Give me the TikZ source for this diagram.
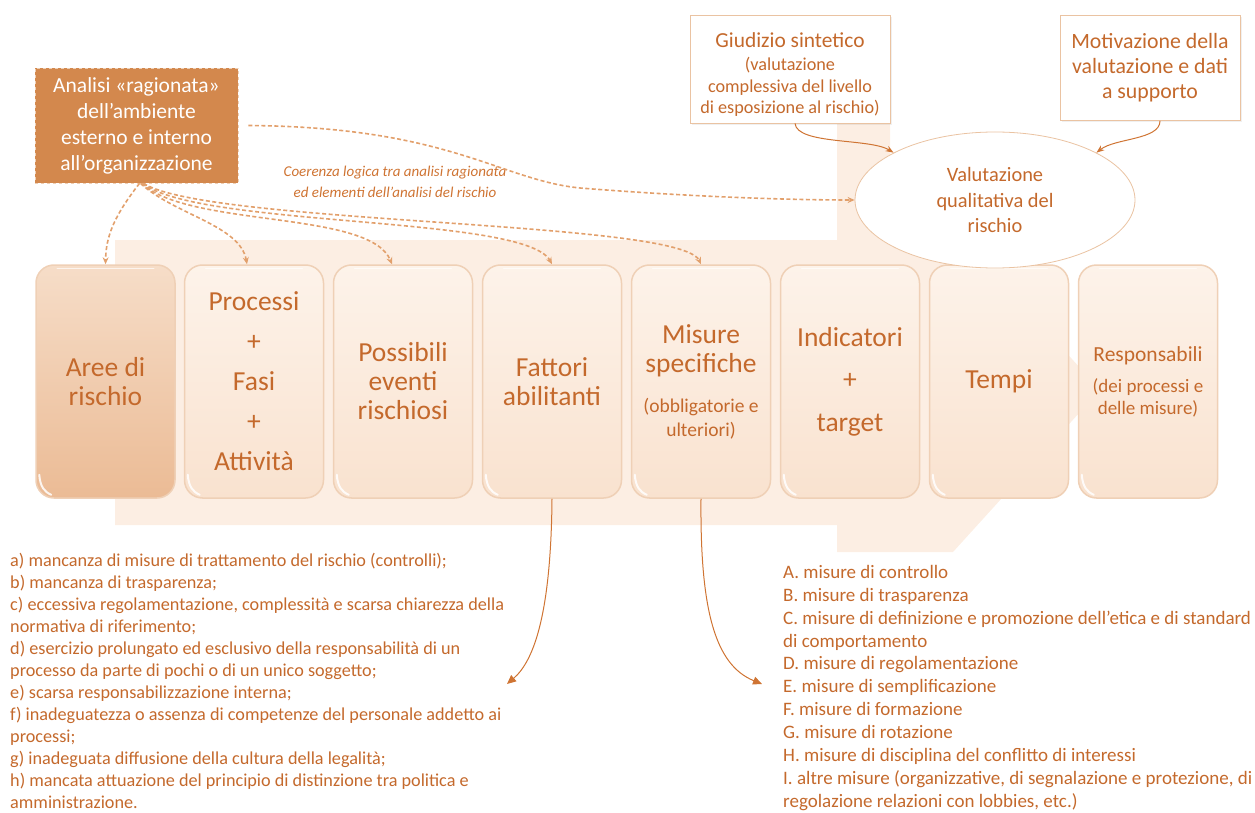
\documentclass[tikz,border=0pt]{standalone}
\usepackage{fontspec}
\setmainfont{Carlito}
\usetikzlibrary{arrows.meta,shadows,shapes.geometric}
\definecolor{txt}{HTML}{C4692C}
\definecolor{pale}{HTML}{FCEEE3}
\definecolor{dsh}{HTML}{E2A06C}
\definecolor{bxb}{HTML}{EFD0B6}
\definecolor{anfill}{HTML}{D3884D}
\definecolor{lns}{HTML}{CF7433}
\definecolor{topA}{HTML}{F6DDC8}
\definecolor{botA}{HTML}{EBBB95}
\definecolor{topB}{HTML}{FDF3EA}
\definecolor{botB}{HTML}{F9E2CF}
\definecolor{frame}{HTML}{EAC3A2}
\begin{document}
\begin{tikzpicture}[x=1pt,y=-1pt,
  bx/.style={draw=bxb, line width=1.5pt, rounded corners=18pt, minimum width=139pt,
    minimum height=233pt, inner sep=0pt, align=center, text=txt,
    font=\fontsize{27.5}{29}\selectfont, top color=topB, bottom color=botB},
  gloss/.style={draw=white, line width=2pt, opacity=0.85, line cap=round},
  dashedarrow/.style={draw=dsh, line width=1.6pt, dash pattern=on 4pt off 2.5pt,
    -{Stealth[length=7pt,width=6pt]}},
  solidarrow/.style={draw=lns, line width=1pt, -{Stealth[length=8pt,width=6pt]}},
  notebox/.style={draw=frame, line width=0.8pt, fill=white, align=center, text=txt,
    inner sep=0pt, drop shadow={opacity=0.12, shadow xshift=2pt, shadow yshift=-2pt}},
  listtext/.style={align=left, text=txt, inner sep=0pt, anchor=north west}
]
\useasboundingbox (0,0) rectangle (1255,813);
% background arrow
\fill[pale] (115,240) -- (837,240) -- (837,123) -- (890,123) -- (890,158) -- (1100,390)
  -- (953,552) -- (837,552) -- (837,525) -- (115,525) -- cycle;

% boxes
\node[bx, top color=topA, bottom color=botA] (b1) at (105.5,381.5) {Aree di\\rischio};
\node[bx] (b2) at (254,381.5) {Processi\\[11pt]+\\[11pt]Fasi\\[11pt]+\\[11pt]Attività};
\node[bx] (b3) at (403,381.5) {Possibili\\eventi\\rischiosi};
\node[bx] (b4) at (552,381.5) {Fattori\\abilitanti};
\node[bx] (b5) at (701,381.5) {Misure\\specifiche\\[11pt]{\fontsize{19.5}{24}\selectfont (obbligatorie e}\\[-5pt]{\fontsize{19.5}{24}\selectfont ulteriori)}};
\node[bx] (b6) at (850,381.5) {Indicatori\\[13.5pt]+\\[13.5pt]target};
\node[bx] (b7) at (999,381.5) {Tempi};
\node[bx] (b8) at (1148,381.5) {{\fontsize{21.5}{26}\selectfont Responsabili}\\[2pt]{\fontsize{19}{23}\selectfont (dei processi e}\\[-7pt]{\fontsize{19}{23}\selectfont delle misure)}};
\foreach \b in {b1,b2,b3,b4,b5,b6,b7,b8}{
  \draw[gloss] ([shift={(4pt,24pt)}]\b.south west) .. controls ([shift={(5pt,12pt)}]\b.south west) and ([shift={(9pt,7pt)}]\b.south west) .. ([shift={(16pt,4pt)}]\b.south west);
  \draw[gloss, line width=1.5pt, opacity=0.7] ([shift={(22pt,-4pt)}]\b.north west) -- ([shift={(-22pt,-4pt)}]\b.north east);
}

% analisi box
\node[fill=anfill, draw=frame!80!white, dashed, line width=0.8pt, minimum width=203pt,
  minimum height=115pt, inner sep=0pt, align=center, text=white,
  font=\fontsize{21.5}{26}\selectfont] (an) at (136.5,125.5)
  {Analisi «ragionata»\\dell’ambiente\\esterno e interno\\all’organizzazione};

\node[align=center, text=lns, inner sep=0pt, font=\itshape\fontsize{15}{21}\selectfont]
  (coer) at (395,182) {Coerenza logica tra analisi ragionata\\ed elementi dell’analisi del rischio};

% top boxes
\node[notebox, minimum width=200pt, minimum height=108pt, font=\fontsize{18.2}{21.5}\selectfont]
  (giu) at (790,69)
  {\rule{0pt}{26pt}{\fontsize{21.4}{26}\selectfont Giudizio sintetico}\\[1.5pt](valutazione\\complessiva del livello\\di esposizione al rischio)};
\node[notebox, minimum width=180pt, minimum height=105pt, font=\fontsize{21.8}{25}\selectfont]
  (mot) at (1150,68) {Motivazione della\\valutazione e dati\\a supporto};

\node[ellipse, draw=frame, line width=0.8pt, fill=white, minimum width=280pt, minimum height=136pt,
  inner sep=0pt, align=center, text=txt, font=\fontsize{20.4}{25.5}\selectfont]
  (val) at (995,200) {Valutazione\\qualitativa del\\rischio};

% lists
\node[listtext, font=\fontsize{18.2}{22}\selectfont] (lista) at (10,553)
 {a) mancanza di misure di trattamento del rischio (controlli);\\
  b) mancanza di trasparenza;\\
  c) eccessiva regolamentazione, complessità e scarsa chiarezza della\\
  normativa di riferimento;\\
  d) esercizio prolungato ed esclusivo della responsabilità di un\\
  processo da parte di pochi o di un unico soggetto;\\
  e) scarsa responsabilizzazione interna;\\
  f) inadeguatezza o assenza di competenze del personale addetto ai\\
  processi;\\
  g) inadeguata diffusione della cultura della legalità;\\
  h) mancata attuazione del principio di distinzione tra politica e\\
  amministrazione.};
\node[listtext, font=\fontsize{19}{22.9}\selectfont] (listb) at (783,565)
 {A. misure di controllo\\
  B. misure di trasparenza\\
  C. misure di definizione e promozione dell’etica e di standard\\
  di comportamento\\
  D. misure di regolamentazione\\
  E. misure di semplificazione\\
  F. misure di formazione\\
  G. misure di rotazione\\
  H. misure di disciplina del conflitto di interessi\\
  I. altre misure (organizzative, di segnalazione e protezione, di\\
  regolazione relazioni con lobbies, etc.)};

\coordinate (fe) at (507,684);
\coordinate (me) at (762,684);

% connectors
\draw[dashedarrow] ([xshift=10pt]an.east) .. controls (450,127) and (500,180) .. (580,188)
  .. controls (680,196) and (780,200) .. (val.west);
\draw[dashedarrow] ([xshift=3pt]an.south) .. controls (115,215) and (106,235) .. (b1.north);
\draw[dashedarrow] ([xshift=4pt]an.south) .. controls (175,215) and (240,225) .. ([xshift=-7pt]b2.north);
\draw[dashedarrow] ([xshift=5pt]an.south) .. controls (190,228) and (370,210) .. ([xshift=-11pt]b3.north);
\draw[dashedarrow] ([xshift=6pt]an.south) .. controls (200,228) and (525,215) .. (b4.north);
\draw[dashedarrow] ([xshift=7pt]an.south) .. controls (210,225) and (680,220) .. (b5.north);

\draw[solidarrow] ([xshift=5pt]giu.south) .. controls (797,145) and (870,138) .. (val.155);
\draw[solidarrow] ([xshift=10pt]mot.south) .. controls (1160,140) and (1115,138) .. (val.25);

\draw[solidarrow, -{Triangle[length=9pt,width=8pt]}] (b4.south) .. controls (551,610) and (535,660) .. (fe);
\draw[solidarrow, -{Triangle[length=9pt,width=8pt]}] (b5.south) .. controls (700,610) and (715,665) .. (me);
\end{tikzpicture}
\end{document}
